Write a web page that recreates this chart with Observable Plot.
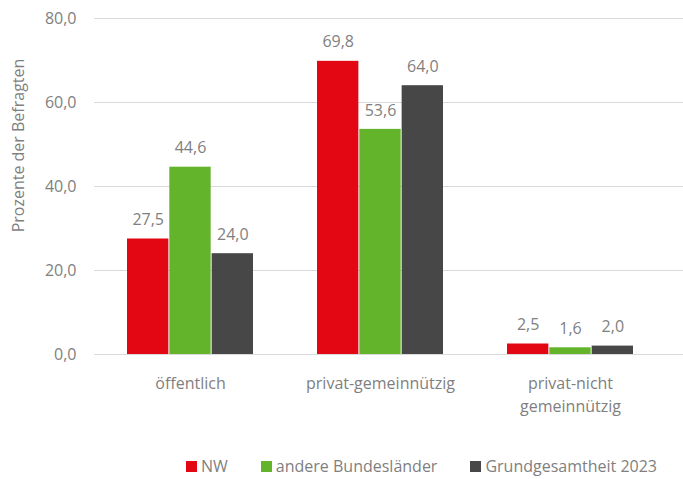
<!DOCTYPE html>
<html>
<head>
<meta charset="utf-8">
<script src="https://cdn.jsdelivr.net/npm/d3@7"></script>
<script src="https://cdn.jsdelivr.net/npm/@observablehq/plot@0.6"></script>
<style>
  body { margin: 0; background: #fff; font-family: "Open Sans", sans-serif; }
  #chart svg { display: block; }
  #legend { display: flex; justify-content: flex-start; align-items: center; padding-left: 186px; margin-top: 14px; height: 40px; font-size: 16px; color: #7f7f7f; white-space: nowrap; }
  #legend .item { display: flex; align-items: center; margin-right: 33px; flex-shrink: 0; }
  #legend .sw { width: 11px; height: 11px; margin-right: 4px; flex-shrink: 0; }
</style>
</head>
<body>
<div id="chart"></div>
<script>
const categories = ["öffentlich", "privat-gemeinnützig", "privat-nicht gemeinnützig"];
const series = ["NW", "andere Bundesländer", "Grundgesamtheit 2023"];
const colors = ["#E30613", "#63B42A", "#474747"];
const valuesNW = [27.5, 69.8, 2.5];
const valuesAndere = [44.6, 53.6, 1.6];
const valuesGesamt = [24.0, 64.0, 2.0];
const yTicks = [0, 20, 40, 60, 80];
const yLabel = "Prozente der Befragten";

const seriesValues = [valuesNW, valuesAndere, valuesGesamt];
const fmt = v => v.toFixed(1).replace(".", ",");

const W = 683, mL = 94, mR = 0;
const pIn = 0.335, pOut = 0.21;
const step = (W - mL - mR) / (categories.length - pIn + 2 * pOut);
const barW = step * (1 - pIn) / series.length;

const marks = [
  Plot.ruleY(yTicks, {stroke: "#d9d9d9", strokeWidth: 1}),
  Plot.axisY({ticks: yTicks, tickFormat: fmt, tickSize: 0, tickPadding: 18, label: null, fill: "#7f7f7f", fontSize: 16}),
  Plot.axisX({tickSize: 0, tickPadding: 18, label: null, tickFormat: d => d.replace("nicht ", "nicht\n"), lineHeight: 1.45, fill: "#7f7f7f", fontSize: 16}),
  Plot.text([yLabel], {frameAnchor: "left", text: d => d, rotate: -90, textAnchor: "middle", dx: -76, dy: -41, fill: "#7f7f7f", fontSize: 16})
];
series.forEach((s, j) => {
  const rows = categories.map((c, i) => ({category: c, value: seriesValues[j][i]}));
  marks.push(Plot.barY(rows, {x: "category", y: "value", fill: colors[j],
    insetLeft: j * barW, insetRight: (series.length - 1 - j) * barW}));
  marks.push(Plot.text(rows, {x: "category", y: "value", text: d => fmt(d.value),
    dx: (j - (series.length - 1) / 2) * barW, dy: -19, fill: "#7f7f7f", fontSize: 16}));
});

const plot = Plot.plot({
  width: W,
  height: 432,
  marginLeft: mL,
  marginRight: mR,
  marginTop: 18,
  marginBottom: 78,
  style: {fontFamily: "Open Sans, sans-serif", fontSize: "16px", color: "#7f7f7f", background: "#fff"},
  x: {domain: categories, paddingInner: pIn, paddingOuter: pOut, align: 0.4, axis: null},
  y: {domain: [0, 80], axis: null},
  marks
});
document.getElementById("chart").appendChild(plot);

const legend = document.createElement("div");
legend.id = "legend";
series.forEach((s, j) => {
  const item = document.createElement("div");
  item.className = "item";
  const sw = document.createElement("span");
  sw.className = "sw";
  sw.style.background = colors[j];
  const t = document.createElement("span");
  t.textContent = s;
  item.appendChild(sw);
  item.appendChild(t);
  legend.appendChild(item);
});
document.body.appendChild(legend);
</script>
</body>
</html>
